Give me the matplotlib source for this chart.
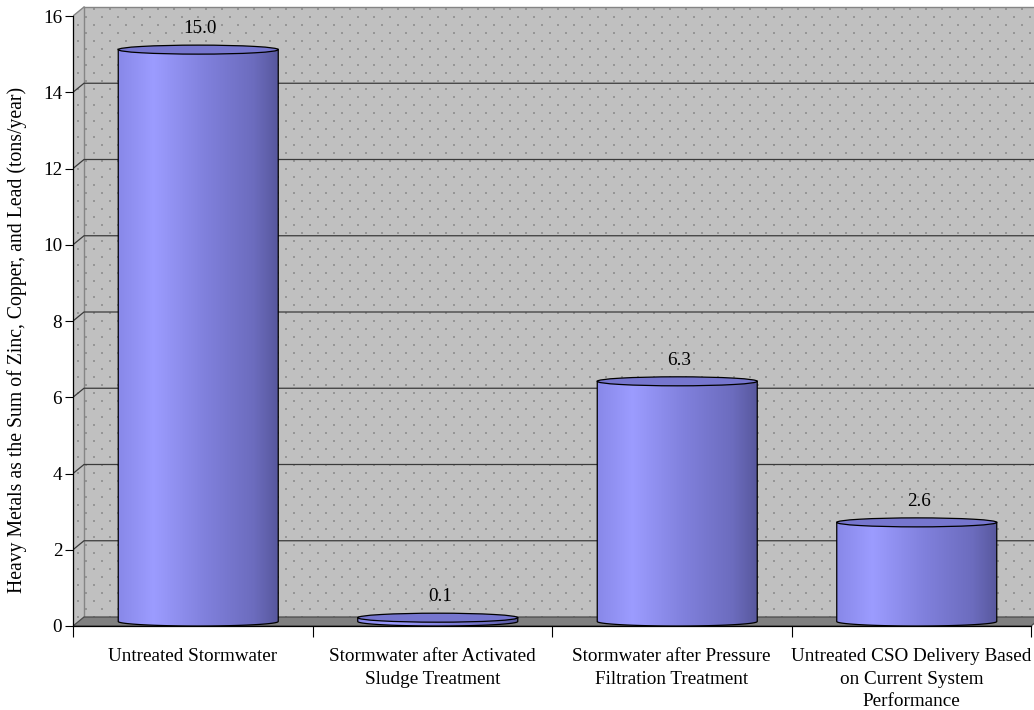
import numpy as np
import matplotlib
matplotlib.use("Agg")
import matplotlib.pyplot as plt
from matplotlib.patches import Polygon, Ellipse
from matplotlib.colors import LinearSegmentedColormap

# ---------------- data ----------------
categories = [
    "Untreated Stormwater",
    "Stormwater after Activated\nSludge Treatment",
    "Stormwater after Pressure\nFiltration Treatment",
    "Untreated CSO Delivery Based\non Current System\nPerformance",
]
values = [15.0, 0.1, 6.3, 2.6]
value_labels = ["15.0", "0.1", "6.3", "2.6"]
y_ticks = [0, 2, 4, 6, 8, 10, 12, 14, 16]
y_label = "Heavy Metals as the Sum of Zinc, Copper, and Lead (tons/year)"

# ---------------- style / layout ----------------
plt.rcParams["font.family"] = ["Liberation Serif", "DejaVu Serif"]
FS = 13.8
W, H = 1034, 710
AX_L, AX_R, AX_T, AX_B = 73, 1034, 6, 626      # axes box in pixels
PX_CAT, PX_VAL = 239.5, 38.125                 # pixels per category / per unit
DEPTH_X, DEPTH_Y = 11, 9                       # 3-D depth offset in pixels

fig = plt.figure(figsize=(W / 100, H / 100), dpi=100)
ax = fig.add_axes([AX_L / W, (H - AX_B) / H, (AX_R - AX_L) / W, (AX_B - AX_T) / H])
xmax = (AX_R - AX_L) / PX_CAT
ytop = (AX_B - AX_T) / PX_VAL
ncat = len(categories)
ymax = y_ticks[-1]
dx = DEPTH_X / PX_CAT
dy = DEPTH_Y / PX_VAL

# ---------------- walls with dotted texture ----------------
nh, nw = AX_B - AX_T, AX_R - AX_L
tex = np.full((nh, nw, 3), 192 / 255.0)
rows = np.arange(nh)[:, None]
cols = np.arange(nw)[None, :]
rr = (rows - 2) % 8
ridx = (rows - 2) // 8
cc = (cols - 4 - (ridx % 2) * 8) % 16
mask = (rr < 2) & (cc < 2)
mask = np.broadcast_to(mask, (nh, nw))
tex[mask] = 150 / 255.0
img = ax.imshow(tex, extent=(0, xmax, 0, ytop), origin="upper",
                interpolation="nearest", aspect="auto", zorder=0)
wall = Polygon([(0, 0), (dx, dy), (xmax, dy), (xmax, ymax + dy),
                (dx, ymax + dy), (0, ymax)], closed=True,
               facecolor="none", edgecolor="none", transform=ax.transData)
ax.add_patch(wall)
img.set_clip_path(wall)

# wall borders
ax.plot([dx, xmax], [ymax + dy, ymax + dy], color="#858585", lw=1.0, zorder=1)
ax.plot([dx, dx], [dy, ymax + dy], color="#858585", lw=1.0, zorder=1)
ax.plot([0, dx], [ymax, ymax + dy], color="#858585", lw=1.0, zorder=1)

# gridlines (back wall + side wall)
for v in y_ticks[1:-1]:
    ax.plot([0, dx, xmax], [v, v + dy, v + dy], color="#3a3a3a", lw=0.9, zorder=1)

# floor
floor = Polygon([(0, 0), (ncat, 0), (ncat + dx, dy), (dx, dy)], closed=True,
                facecolor="#808080", edgecolor="#4a4a4a", lw=0.9, zorder=1.5)
ax.add_patch(floor)

# ---------------- cylinders ----------------
cyl_cmap = LinearSegmentedColormap.from_list(
    "cyl",
    [(0.0, (136/255, 136/255, 232/255)),
     (0.22, (156/255, 156/255, 255/255)),
     (0.55, (128/255, 128/255, 220/255)),
     (0.85, (108/255, 108/255, 190/255)),
     (1.0, (88/255, 88/255, 158/255))])
top_color = (118/255, 118/255, 206/255)
hw = 80 / PX_CAT
ry = dy / 2
grad = np.linspace(0, 1, 256)[None, :]
t = np.linspace(np.pi, 2 * np.pi, 80)

for i, v in enumerate(values):
    xc = i + 0.5 + dx / 2
    yb = dy / 2
    yt = yb + v
    arc_x = xc + hw * np.cos(t)
    arc_y = yb + ry * np.sin(t)
    xs = np.concatenate([[xc - hw], arc_x, [xc + hw]])
    ys = np.concatenate([[yt], arc_y, [yt]])
    body = Polygon(np.column_stack([xs, ys]), closed=True, facecolor="none",
                   edgecolor="none", transform=ax.transData)
    ax.add_patch(body)
    gi = ax.imshow(grad, cmap=cyl_cmap, extent=(xc - hw, xc + hw, yb - ry, yt),
                   aspect="auto", interpolation="bilinear", zorder=3)
    gi.set_clip_path(body)
    ax.plot(xs, ys, color="black", lw=0.9, zorder=3.2, solid_joinstyle="round")
    ax.add_patch(Ellipse((xc, yt), 2 * hw, 2 * ry, facecolor=top_color,
                         edgecolor="black", lw=0.9, zorder=3.3))
    ax.annotate(value_labels[i], xy=(xc, yt + ry), xytext=(1.5, 8.5),
                textcoords="offset points", ha="center", va="baseline",
                fontsize=FS, zorder=4)

# ---------------- axes ----------------
ax.set_xlim(0, xmax)
ax.set_ylim(0, ytop)
for s in ("top", "right"):
    ax.spines[s].set_visible(False)
ax.spines["left"].set_bounds(0, ymax)
ax.spines["bottom"].set_bounds(0, ncat)
for s in ("left", "bottom"):
    ax.spines[s].set_linewidth(0.9)
    ax.spines[s].set_zorder(2.5)
ax.set_yticks(y_ticks)
ax.set_yticklabels([str(v) for v in y_ticks])
ax.tick_params(axis="y", length=5.8, width=0.8, pad=2, labelsize=FS)
ax.set_xticks(np.arange(ncat + 1))
ax.set_xticklabels([])
ax.set_xticks(np.arange(ncat) + 0.5, minor=True)
ax.set_xticklabels(categories, minor=True, fontsize=FS, linespacing=1.42)
ax.tick_params(axis="x", which="major", length=8, width=0.8)
ax.tick_params(axis="x", which="minor", length=0, pad=16)

fig.text(17 / W, (H - 340) / H, y_label, rotation=90, ha="center", va="center",
         fontsize=FS + 0.4)

fig.savefig("out.png", dpi=100, facecolor="white")
